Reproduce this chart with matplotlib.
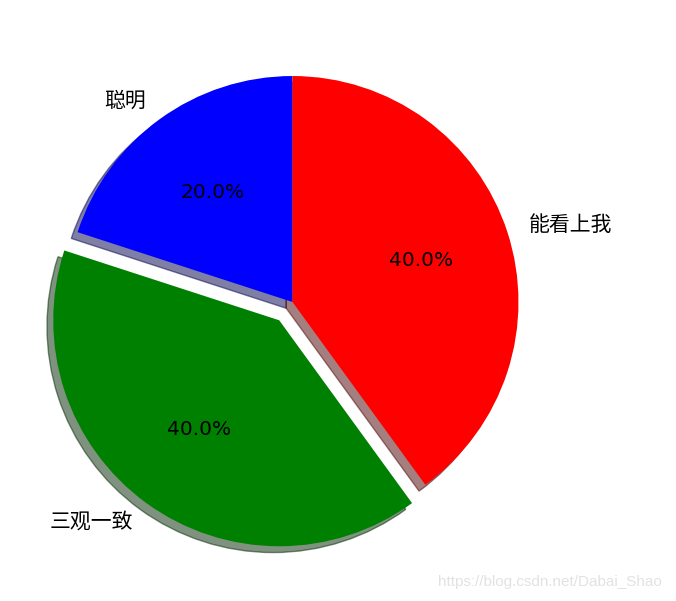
import numpy as np
import matplotlib
matplotlib.use('Agg')
import matplotlib.pyplot as plt

plt.rcParams['font.family'] = ['Noto Sans CJK SC', 'DejaVu Sans']

labels = ['聪明', '三观一致', '能看上我']
sizes = [20, 40, 40]
colors = ['blue', 'green', 'red']
explode = [0, 0.1, 0]


def main():
    fig = plt.figure(figsize=(6.76, 6.01), dpi=100)
    ax = fig.add_axes([0.0148, 0.0275, 0.8358, 0.940])

    patches, texts, autotexts = ax.pie(sizes, labels=labels, colors=colors,
                                       explode=explode, autopct='%1.1f%%',
                                       shadow=True, startangle=90,
                                       textprops={'fontsize': 15})
    for t in autotexts:
        t.set_fontfamily('DejaVu Sans')
        t.set_fontsize(14.5)
    ax.set_aspect('equal')
    ax.set_xlim(-1.25, 1.25)
    ax.set_ylim(-1.25, 1.25)

    # watermark
    fig.text(0.8136, 0.032, 'https://blog.csdn.net/Dabai_Shao', fontsize=11,
             color='#e2e2e2', ha='center', va='center', family='Liberation Sans')

    plt.savefig('out.png', dpi=100)


main()
